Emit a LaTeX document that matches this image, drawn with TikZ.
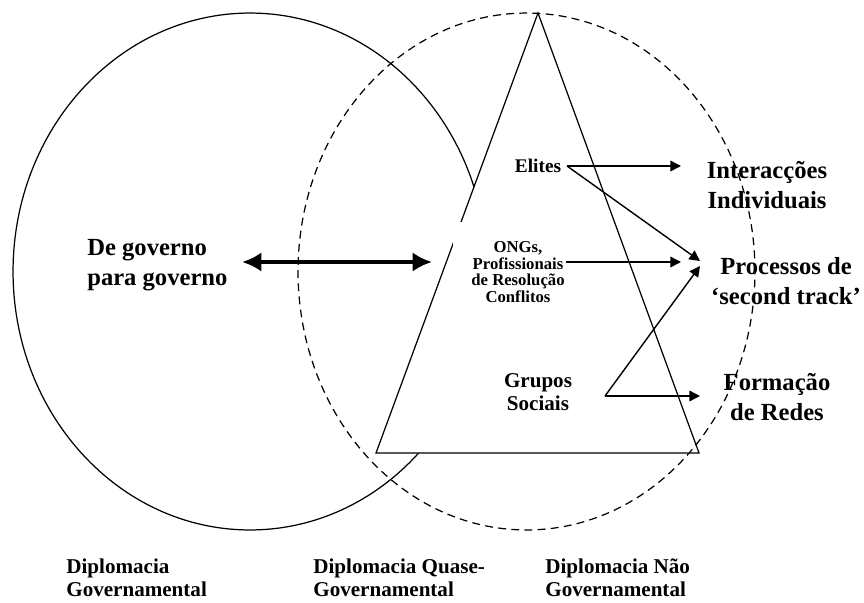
\documentclass[tikz,border=0pt]{standalone}
\usepackage{fontspec}
\setmainfont{Liberation Serif}
\usetikzlibrary{arrows.meta}
\begin{document}
\begin{tikzpicture}[x=0.02cm,y=-0.02cm,
  shapeline/.style={line width=0.7pt},
  biglabel/.style={font=\fontsize{14}{17}\selectfont\bfseries, align=center, inner sep=0pt},
  bottomlabel/.style={font=\fontsize{12}{13}\selectfont\bfseries, align=left, anchor=west, inner sep=0pt},
  thinarrow/.style={line width=0.8pt, -{Triangle[length=6pt,width=6pt]}},
  thickarrow/.style={line width=2.2pt, {Latex[length=11pt,width=11pt]}-{Latex[length=11pt,width=11pt]}}]
\useasboundingbox (0,0) rectangle (864,602);
% shapes
\draw[shapeline] (250,271.5) ellipse [x radius=4.74cm, y radius=5.17cm];
\filldraw[shapeline, fill=white] (538,13) -- (699,453) -- (376,453) -- cycle;
\fill[white] (452.5,222) rectangle (580,325);
\draw[shapeline, dash pattern=on 4.5pt off 3pt] (526.5,271.5) ellipse [x radius=4.57cm, y radius=5.17cm];
% labels
\node[biglabel, align=left, anchor=west] (gov) at (87,265.5) {De governo\\para governo};
\node[biglabel] (inter) at (767,185) {Interacções\\Individuais};
\node[biglabel] (proc) at (786,281) {Processos de\\‘second track’};
\node[biglabel] (form) at (777,397) {Formação\\de Redes};
\node[font=\fontsize{11}{13}\selectfont\bfseries, inner sep=0pt] (elites) at (538,166) {Elites};
\node[font=\fontsize{9.5}{9.6}\selectfont\bfseries, align=center, inner sep=0pt] (ongs) at (518,272) {ONGs,\\Profissionais\\de Resolução\\Conflitos};
\node[font=\fontsize{12}{13}\selectfont\bfseries, align=center, inner sep=0pt] (grupos) at (538,392) {Grupos\\Sociais};
\node[bottomlabel] (dg) at (66,578) {Diplomacia\\Governamental};
\node[bottomlabel] (dq) at (313,578) {Diplomacia Quase-\\Governamental};
\node[bottomlabel] (dn) at (545,578) {Diplomacia Não\\Governamental};
% connector points
\coordinate (da) at (242,262);
\coordinate (db) at (432,262);
\coordinate (ev) at (567,166);
\coordinate (e1) at (681,166);
\coordinate (e2) at (700,261);
\coordinate (ov) at (566,262);
\coordinate (o1) at (681,262);
\coordinate (gv) at (605,396);
\coordinate (g1) at (700,396);
\coordinate (g2) at (700,266);
% connectors
\draw[thickarrow] (da) -- (db);
\draw[thinarrow] (ev) -- (e1);
\draw[thinarrow] (ev) -- (e2);
\draw[thinarrow] (ov) -- (o1);
\draw[thinarrow] (gv) -- (g1);
\draw[thinarrow] (gv) -- (g2);
\end{tikzpicture}
\end{document}
